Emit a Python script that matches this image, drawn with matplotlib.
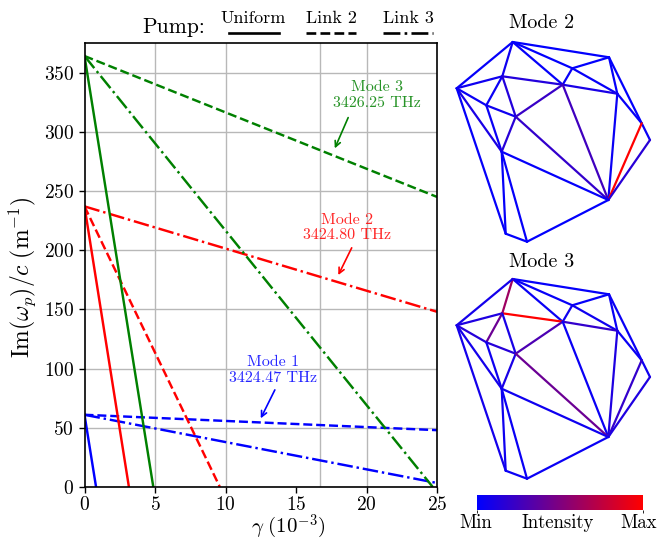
import numpy as np
import matplotlib
matplotlib.use('Agg')
import matplotlib.pyplot as plt
from matplotlib.collections import LineCollection
from matplotlib.colors import LinearSegmentedColormap

plt.rcParams['font.family'] = ['cmr10', 'DejaVu Serif']
plt.rcParams['mathtext.fontset'] = 'cm'
plt.rcParams['axes.formatter.use_mathtext'] = True
plt.rcParams['axes.unicode_minus'] = False

W, H = 668, 541

# gamma (1e-3), Im(w_p)/c
mode1_uniform = ([0, 0.82], [61, 0])
mode1_link2 = ([0, 25], [61, 48])
mode1_link3 = ([0, 25], [61, 3.4])
mode2_uniform = ([0, 3.15], [237, 0])
mode2_link2 = ([0, 9.6], [237, 0])
mode2_link3 = ([0, 25], [237, 148])
mode3_uniform = ([0, 4.88], [364, 0])
mode3_link2 = ([0, 25], [364, 245])
mode3_link3 = ([0, 24.7], [364, 0])

x_ticks = [0, 5, 10, 15, 20, 25]
y_ticks = [0, 50, 100, 150, 200, 250, 300, 350]
x_grid = [5, 10, 16.67, 20]

# network nodes
node_x = [512.7, 609, 572.3, 502.3, 562.7, 617.3, 456.7, 486.3, 515.7, 641.7, 650, 501.7, 608.3, 505.7, 527]
node_y = [42, 57.3, 68.3, 76.3, 84.7, 93.7, 88.3, 105.3, 116.7, 123.3, 140, 151.7, 200, 233.7, 241.7]
edges = [(0, 1), (0, 2), (0, 4), (0, 3), (0, 6), (1, 2), (1, 5), (1, 9), (2, 4), (2, 5),
         (3, 6), (3, 7), (3, 4), (3, 8), (4, 5), (4, 8), (4, 12), (5, 9), (5, 12), (9, 10),
         (9, 12), (10, 12), (6, 7), (7, 8), (7, 11), (6, 11), (6, 13), (8, 11), (8, 12),
         (11, 12), (11, 13), (11, 14), (13, 14), (14, 12)]
# intensity per edge, same order as edges
mode2_int = [0.01, 0.01, 0.02, 0.06, 0.02, 0.01, 0.02, 0.01, 0.03, 0.03,
             0.06, 0.04, 0.14, 0.14, 0.1, 0.22, 0.25, 0.03, 0.04, 0.04,
             1.0, 0.16, 0.04, 0.06, 0.04, 0.1, 0.02, 0.16, 0.2,
             0.02, 0.02, 0.02, 0.01, 0.01]
mode3_int = [0.02, 0.03, 0.04, 0.62, 0.08, 0.02, 0.04, 0.04, 0.06, 0.06,
             0.12, 0.42, 1.0, 0.1, 0.2, 0.3, 0.04, 0.04, 0.12, 0.06,
             0.2, 0.12, 0.15, 0.15, 0.06, 0.08, 0.08, 0.1, 0.42,
             0.06, 0.06, 0.04, 0.04, 0.04]

cmap = LinearSegmentedColormap.from_list('br', ['#0000ff', '#ff0000'])


def draw_network(ax, values):
    segs = [[(node_x[a], node_y[a]), (node_x[b], node_y[b])] for a, b in edges]
    lc = LineCollection(segs, cmap=cmap, linewidths=1.6, capstyle='round')
    lc.set_array(np.array(values))
    lc.set_clim(0, 1)
    ax.add_collection(lc)
    ax.set_xlim(440, 664)
    ax.set_ylim(250, 30)
    ax.axis('off')


fig = plt.figure(figsize=(W / 100, H / 100), dpi=100)
ax = fig.add_axes([84.5 / W, (H - 487) / H, 352.5 / W, 444 / H])

for gx in x_grid:
    ax.axvline(gx, color='#b8b8b8', lw=1.0, zorder=0)
for gy in y_ticks:
    ax.axhline(gy, color='#b8b8b8', lw=1.0, zorder=0)

lw = 1.75
ax.plot(*mode1_uniform, color='b', lw=lw)
ax.plot(*mode1_link2, color='b', lw=lw, ls='--')
ax.plot(*mode1_link3, color='b', lw=lw, ls='-.')
ax.plot(*mode2_uniform, color='r', lw=lw)
ax.plot(*mode2_link2, color='r', lw=lw, ls='--')
ax.plot(*mode2_link3, color='r', lw=lw, ls='-.')
ax.plot(*mode3_uniform, color='g', lw=lw)
ax.plot(*mode3_link2, color='g', lw=lw, ls='--')
ax.plot(*mode3_link3, color='g', lw=lw, ls='-.')

ax.set_xlim(0, 25)
ax.set_ylim(0, 375)
ax.set_xticks(x_ticks)
ax.set_yticks(y_ticks)
ax.tick_params(labelsize=14, length=4, width=1)
ax.tick_params(axis='x', pad=2.5)
for s in ax.spines.values():
    s.set_linewidth(1.2)
ax.set_xlabel(r'$\gamma\ (10^{-3})$', fontsize=15, labelpad=-1, x=(288 - 84.5) / 352.5)
ax.set_ylabel(r'$\mathrm{Im}(\omega_p)/c\ (\mathrm{m}^{-1})$', fontsize=17, labelpad=4,
              y=(487 - 277) / 444)

text_kw = dict(alpha=0.85, fontsize=11.5, ha='center', va='center', linespacing=1.2)
ax.text(20.75, 331, 'Mode 3\n3426.25 THz', color='g', **text_kw)
ax.text(18.6, 219, 'Mode 2\n3424.80 THz', color='r', **text_kw)
ax.text(13.4, 99, 'Mode 1\n3424.47 THz', color='b', **text_kw)
arrow = dict(arrowstyle='->', lw=1.2, shrinkA=0, shrinkB=0)
ax.annotate('', xy=(17.75, 286), xytext=(18.7, 312), arrowprops=dict(color='g', **arrow))
ax.annotate('', xy=(18, 179), xytext=(18.95, 202), arrowprops=dict(color='r', **arrow))
ax.annotate('', xy=(12.5, 58), xytext=(13.5, 82), arrowprops=dict(color='b', **arrow))


def px(x, y):
    return x / W, 1 - y / H


# pump legend above the axes
fig.text(*px(174, 27), 'Pump:', fontsize=15.5, ha='center', va='center')
fig.text(*px(253, 18), 'Uniform', fontsize=13, ha='center', va='center')
fig.text(*px(331, 18), 'Link 2', fontsize=13, ha='center', va='center')
fig.text(*px(408, 18), 'Link 3', fontsize=13, ha='center', va='center')
for x0, ls in [(229, '-'), (306, '--'), (383, '-.')]:
    fig.add_artist(plt.Line2D([x0 / W, (x0 + 50) / W], [1 - 33 / H] * 2, color='k', lw=1.9, ls=ls))

# networks, axes limits are in the same units as node_x, node_y
ax2 = fig.add_axes([440 / W, (H - 250) / H, 224 / W, 220 / H])
draw_network(ax2, mode2_int)
fig.text(*px(542, 23), 'Mode 2', fontsize=14.5, ha='center', va='center')

ax3 = fig.add_axes([440 / W, (H - 487) / H, 224 / W, 220 / H])
draw_network(ax3, mode3_int)
fig.text(*px(542, 262), 'Mode 3', fontsize=14.5, ha='center', va='center')

# colorbar
cax = fig.add_axes([477 / W, (H - 510) / H, 166 / W, 15 / H])
cax.imshow(np.linspace(0, 1, 256).reshape(1, -1), cmap=cmap, aspect='auto', extent=[0, 1, 0, 1])
cax.set_xticks([0, 1])
cax.set_xticklabels([])
cax.set_yticks([])
cax.tick_params(length=2, width=0.6)
for s in cax.spines.values():
    s.set_visible(False)
fig.text(*px(476, 523), 'Min', fontsize=13.5, ha='center', va='center')
fig.text(*px(558, 523), 'Intensity', fontsize=13.5, ha='center', va='center')
fig.text(*px(639, 523), 'Max', fontsize=13.5, ha='center', va='center')

fig.savefig('out.png', dpi=100)
